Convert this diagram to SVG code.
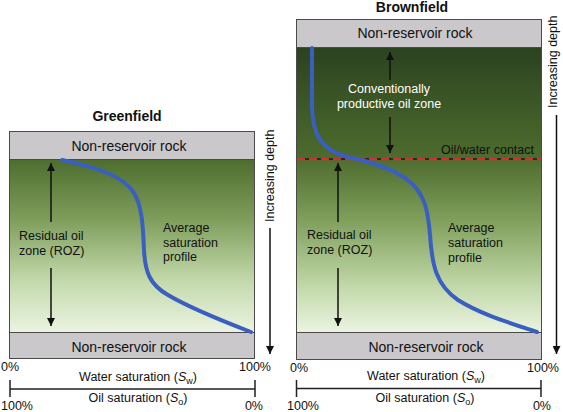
<svg xmlns="http://www.w3.org/2000/svg" width="563" height="412" viewBox="0 0 563 412">
<style>
text{font-family:"Liberation Sans",Arial,sans-serif;fill:#111}
.t{font-size:12.5px}
.nr{font-size:14px;text-anchor:middle}
.ttl{font-size:14px;font-weight:bold;text-anchor:middle}
.w{fill:#fff}
.rock{fill:#cac8ca;stroke:#4a4a4a;stroke-width:1}
.curve{fill:none;stroke:#3b5fc0;stroke-width:4;stroke-linecap:round}
.arr{stroke:#111;stroke-width:1.5;fill:none;marker-end:url(#ah)}
.axis{stroke:#222;stroke-width:1.5;fill:none}
</style>
<defs>
<marker id="ah" viewBox="0 0 10 10" refX="10" refY="5" markerWidth="8" markerHeight="8" markerUnits="userSpaceOnUse" orient="auto">
<path d="M0,0 L10,5 L0,10 z" fill="#111"/>
</marker>
<linearGradient id="gG" gradientUnits="userSpaceOnUse" x1="0" y1="159" x2="0" y2="333">
<stop offset="0" stop-color="#4d6d2e"/>
<stop offset="0.35" stop-color="#7f9e5c"/>
<stop offset="0.7" stop-color="#c3d9ab"/>
<stop offset="1" stop-color="#ecf4e2"/>
</linearGradient>
<linearGradient id="gB" gradientUnits="userSpaceOnUse" x1="0" y1="47" x2="0" y2="333">
<stop offset="0" stop-color="#2b421f"/>
<stop offset="0.39" stop-color="#4d6c2e"/>
<stop offset="0.6" stop-color="#7e9e5a"/>
<stop offset="0.85" stop-color="#c5dbad"/>
<stop offset="1" stop-color="#ecf4e2"/>
</linearGradient>
</defs>

<g id="greenfield">
<text class="ttl" x="127" y="120.5">Greenfield</text>
<rect class="rock" x="9.5" y="131.5" width="245" height="28"/>
<rect x="9.5" y="159.5" width="245" height="173" fill="url(#gG)" stroke="#4a4a4a" stroke-width="1"/>
<rect class="rock" x="9.5" y="332.5" width="245" height="26"/>
<text class="nr" x="129" y="150.5">Non-reservoir rock</text>
<text class="nr" x="129" y="351.5">Non-reservoir rock</text>
<path class="curve" d="M62,160 C95,167 120,175 132,190 C142,203 143,225 144,250 C145,272 150,285 168,295 C190,308 225,322 251,332"/>
<text class="t" x="19" y="239.5">Residual oil</text>
<text class="t" x="19" y="254.5">zone (ROZ)</text>
<text class="t" x="163" y="232">Average</text>
<text class="t" x="163" y="246.5">saturation</text>
<text class="t" x="163" y="261">profile</text>
<text class="t" transform="translate(274,222) rotate(-90)">Increasing depth</text>
</g>

<g id="brownfield">
<text class="ttl" x="412" y="11.5">Brownfield</text>
<rect class="rock" x="296.5" y="19.5" width="245" height="28"/>
<rect x="296.5" y="47.5" width="245" height="285" fill="url(#gB)" stroke="#4a4a4a" stroke-width="1"/>
<rect class="rock" x="296.5" y="332.5" width="245" height="27"/>
<text class="nr" x="415" y="38">Non-reservoir rock</text>
<text class="nr" x="426" y="351.5">Non-reservoir rock</text>
<line x1="297" y1="159" x2="541" y2="159" stroke="#2a2a2a" stroke-width="2"/>
<line x1="297" y1="159" x2="541" y2="159" stroke="#d03030" stroke-width="2.5" stroke-dasharray="8 4"/>
<path class="curve" d="M312,48 L312,105 C312,135 322,150 345,156 C365,161 385,165 405,178 C425,192 428,210 430,235 C432,265 436,285 458,300 C480,314 510,323 537,332"/>
<text class="t w" x="389" y="93" text-anchor="middle">Conventionally</text>
<text class="t w" x="389" y="107.5" text-anchor="middle">productive oil zone</text>
<text class="t" x="534" y="154" text-anchor="end">Oil/water contact</text>
<text class="t" x="307" y="238.5">Residual oil</text>
<text class="t" x="307" y="254">zone (ROZ)</text>
<text class="t" x="448" y="232">Average</text>
<text class="t" x="448" y="247">saturation</text>
<text class="t" x="448" y="262">profile</text>
<text class="t" transform="translate(557,108) rotate(-90)">Increasing depth</text>
</g>

<g id="axis-greenfield">
<path class="axis" d="M10,380 V397 M255,380 V397 M10,389 H255"/>
<text class="t" x="1" y="371">0%</text>
<text class="t" x="271" y="371" text-anchor="end">100%</text>
<text class="t" x="138" y="380.5" text-anchor="middle">Water saturation (<tspan font-style="italic">S</tspan><tspan font-size="9" dy="3">w</tspan><tspan dy="-3">)</tspan></text>
<text class="t" x="138" y="401.5" text-anchor="middle">Oil saturation (<tspan font-style="italic">S</tspan><tspan font-size="9" dy="3">o</tspan><tspan dy="-3">)</tspan></text>
<text class="t" x="1" y="409.5">100%</text>
<text class="t" x="263" y="409.5" text-anchor="end">0%</text>
</g>

<g id="axis-brownfield">
<path class="axis" d="M296.5,380 V397 M541,380 V397 M296.5,388.5 H541"/>
<text class="t" x="290" y="372">0%</text>
<text class="t" x="559" y="372" text-anchor="end">100%</text>
<text class="t" x="426" y="380" text-anchor="middle">Water saturation (<tspan font-style="italic">S</tspan><tspan font-size="9" dy="3">w</tspan><tspan dy="-3">)</tspan></text>
<text class="t" x="425" y="402" text-anchor="middle">Oil saturation (<tspan font-style="italic">S</tspan><tspan font-size="9" dy="3">o</tspan><tspan dy="-3">)</tspan></text>
<text class="t" x="287" y="409.5">100%</text>
<text class="t" x="551" y="409.5" text-anchor="end">0%</text>
</g>

<g id="connectors">
<line class="arr" x1="51" y1="222" x2="51" y2="163"/>
<line class="arr" x1="51" y1="268" x2="51" y2="326"/>
<line class="arr" x1="270" y1="228" x2="270" y2="354"/>
<line class="arr" x1="390" y1="80" x2="390" y2="52"/>
<line class="arr" x1="390" y1="117" x2="390" y2="153"/>
<line class="arr" x1="338" y1="222" x2="338" y2="163"/>
<line class="arr" x1="338" y1="268" x2="338" y2="326"/>
<line class="arr" x1="556.5" y1="115" x2="556.5" y2="354"/>
</g>
</svg>
